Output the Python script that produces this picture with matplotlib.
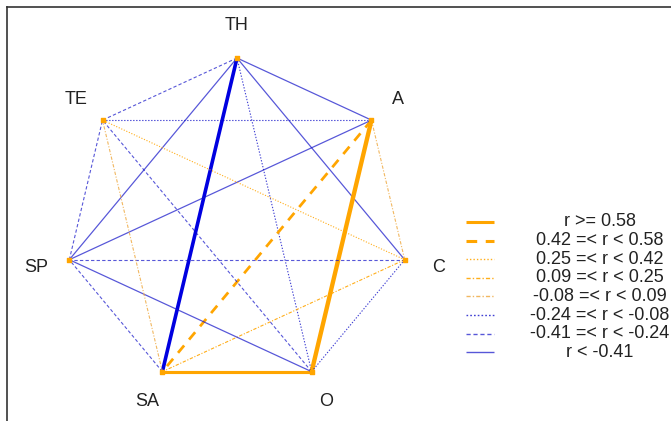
import numpy as np
import matplotlib
matplotlib.use("Agg")
import matplotlib.pyplot as plt

plt.rcParams['font.family'] = ['Liberation Sans', 'DejaVu Sans']

# variables, clockwise from the top
nodes = ['TH', 'A', 'C', 'O', 'SA', 'SP', 'TE']

# correlations between pairs
pairs = [('TH', 'A'), ('TH', 'C'), ('TH', 'O'), ('TH', 'SA'), ('TH', 'SP'), ('TH', 'TE'),
         ('A', 'C'), ('A', 'O'), ('A', 'SA'), ('A', 'SP'), ('A', 'TE'),
         ('C', 'O'), ('C', 'SA'), ('C', 'SP'), ('C', 'TE'),
         ('O', 'SA'), ('O', 'SP'), ('O', 'TE'),
         ('SA', 'SP'), ('SA', 'TE'),
         ('SP', 'TE')]
r_vals = [-0.43, -0.43, -0.15, -0.62, -0.43, -0.30,
          0.02, 0.68, 0.55, -0.43, -0.15,
          -0.18, 0.15, -0.33, 0.30,
          0.58, -0.43, -0.33,
          -0.30, 0.02,
          -0.30]

# bins, high to low
bin_lower = [0.58, 0.42, 0.25, 0.09, -0.08, -0.24, -0.41, -np.inf]
bin_labels = ['r >= 0.58', '0.42 =< r < 0.58', '0.25 =< r < 0.42', '0.09 =< r < 0.25',
              '-0.08 =< r < 0.09', '-0.24 =< r < -0.08', '-0.41 =< r < -0.24', 'r < -0.41']

ORANGE = '#FFA500'
BLUE = '#1010C8'
bin_styles = [
    dict(color=ORANGE, ls='-', alpha=1.0),
    dict(color=ORANGE, ls=(0, (3.5, 2.8)), alpha=1.0),
    dict(color=ORANGE, ls=(0, (1, 1.5)), alpha=0.9),
    dict(color=ORANGE, ls=(0, (3, 1.5, 1, 1.5)), alpha=0.9),
    dict(color='#F0B050', ls=(0, (3, 1.5, 1, 1.5)), alpha=0.9),
    dict(color=BLUE, ls=(0, (1.2, 1.5)), alpha=0.8),
    dict(color=BLUE, ls=(0, (3, 2)), alpha=0.7),
    dict(color=BLUE, ls='-', alpha=0.7),
]


def bin_of(r):
    for i, lo in enumerate(bin_lower):
        if r >= lo:
            return i
    return len(bin_lower) - 1


fig = plt.figure(figsize=(6.71, 4.21), dpi=100)
ax = fig.add_axes([0, 0, 1, 1])
ax.set_xlim(0, 671)
ax.set_ylim(421, 0)
ax.axis('off')

# heptagon layout
cx, cy, rx, ry = 237, 223, 172, 165
ang = np.arange(len(nodes)) * 2 * np.pi / len(nodes)
px = cx + rx * np.sin(ang)
py = cy - ry * np.cos(ang)
pos = {n: (px[i], py[i]) for i, n in enumerate(nodes)}

for (a, b), r in zip(pairs, r_vals):
    k = bin_of(r)
    st = bin_styles[k]
    lw = 0.8 + 9 * max(abs(r) - 0.42, 0)
    if k == 7 and abs(r) > 0.5:
        st = dict(st, alpha=1.0, color='#0000E0')
    ax.plot([pos[a][0], pos[b][0]], [pos[a][1], pos[b][1]], color=st['color'],
            ls=st['ls'], lw=lw, alpha=st['alpha'], solid_capstyle='butt')

ax.scatter(px, py, marker='s', s=5, color=ORANGE, zorder=5)

for i, n in enumerate(nodes):
    lx = cx + rx * 1.2 * np.sin(ang[i])
    ly = cy - ry * 1.2 * np.cos(ang[i])
    ax.text(lx, ly, n, fontsize=13, ha='center', va='center', color='#222222')

# legend
lw_leg = [2.2, 2.2, 1.0, 1.0, 1.0, 1.0, 1.0, 1.0]
for i, lab in enumerate(bin_labels):
    y = 222 + i * 18.6
    st = bin_styles[i]
    ax.plot([466, 494], [y, y], color=st['color'], ls=st['ls'], lw=lw_leg[i],
            alpha=st['alpha'], solid_capstyle='butt')
    ax.text(600, y, lab, fontsize=13, ha='center', va='center', color='#222222')

# box edges (cropped plot frame)
ax.plot([7, 671], [7, 7], color='#333333', lw=1.2)
ax.plot([7, 7], [7, 421], color='#333333', lw=1.2)

fig.savefig('out.png', dpi=100)
